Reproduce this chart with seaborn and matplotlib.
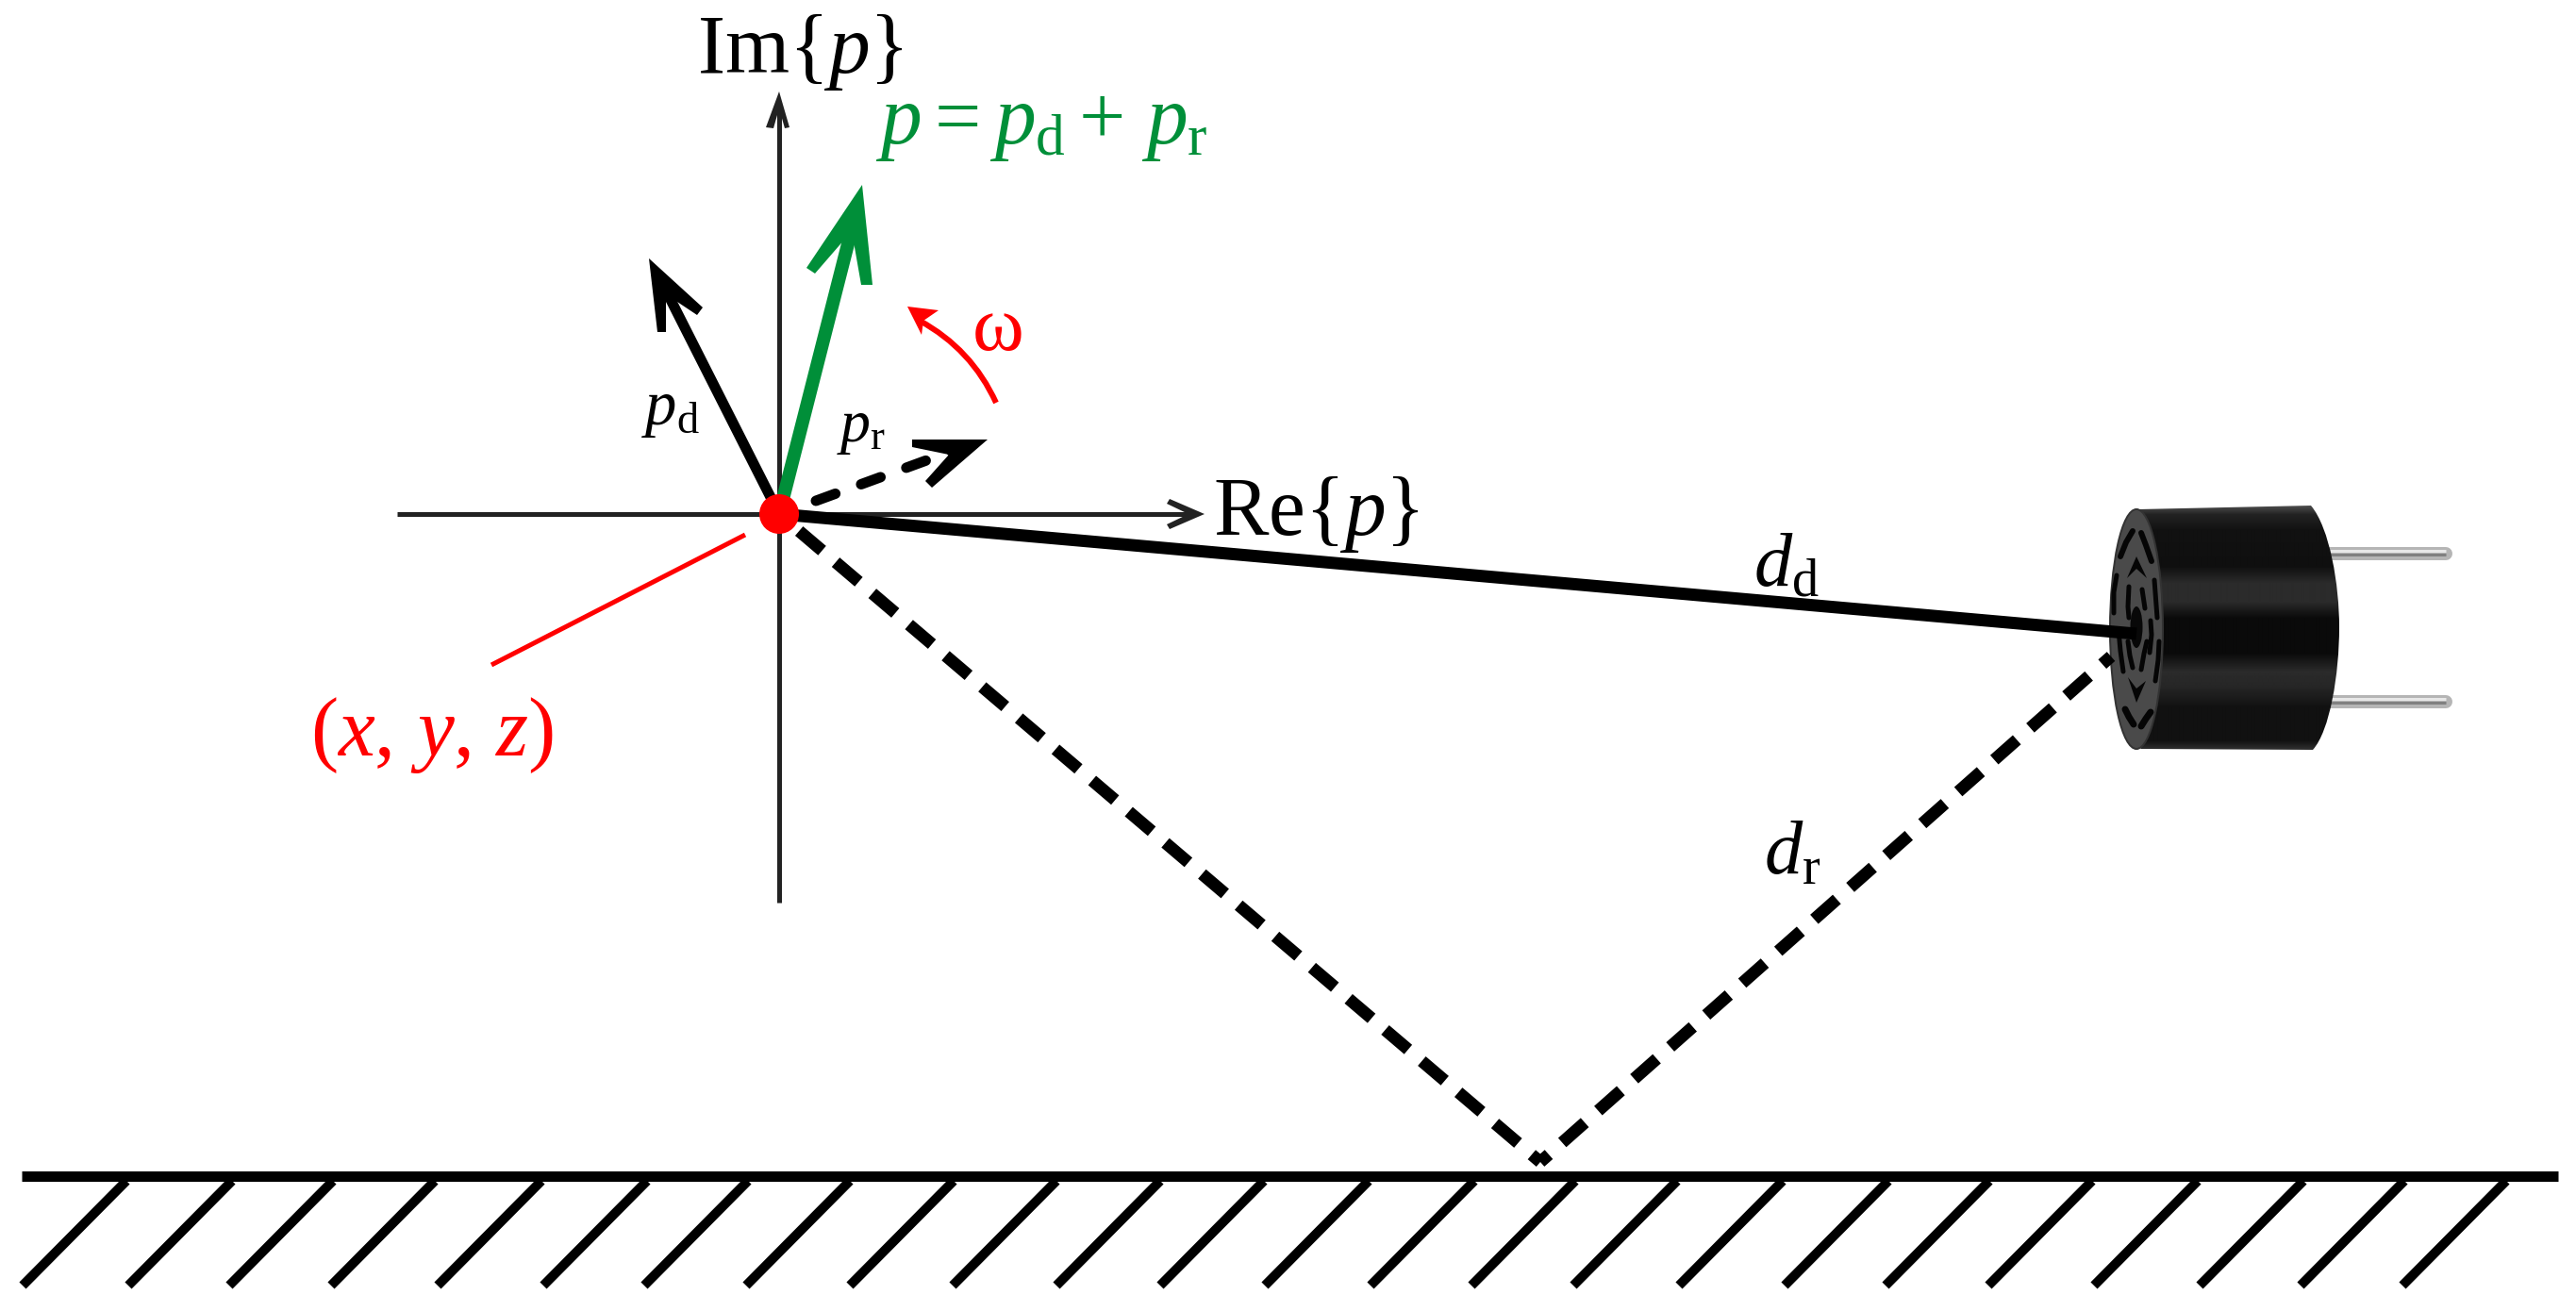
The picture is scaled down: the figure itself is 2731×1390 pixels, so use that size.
import numpy as np
import matplotlib
matplotlib.use("Agg")
import matplotlib.pyplot as plt
import seaborn as sns
from matplotlib.colors import LinearSegmentedColormap
from matplotlib.patches import Ellipse, PathPatch
from matplotlib.path import Path

WIDTH, HEIGHT = 2731, 1390
PX = 0.72  # one pixel in points at dpi 100

RED = "#ff0000"
GREEN = "#008f39"
AXIS = "#222222"

origin = (826, 545)
im_axis_x = [826, 826]
im_axis_y = [957, 110]
re_axis_x = [421, 1265]
re_axis_y = [545, 545]

im_head = [(826, 97), (837, 135), (832, 136), (826, 115), (820, 136), (812, 135)]
re_head = [(1277, 545), (1240, 529), (1237, 534), (1260, 545), (1237, 556), (1240, 561)]

green_tip_x = [826, 905]
green_tip_y = [545, 235]
green_head = [(914, 196), (925, 302), (913, 302), (903, 245), (864, 290), (855, 284)]

pd_x = [826, 702]
pd_y = [545, 300]
pd_head = [(688, 274), (745, 326), (739, 334), (706, 312), (706, 352), (697, 352)]

pr_x = [865, 1018]
pr_y = [531, 475]
pr_head = [(1047, 466), (988, 517), (981, 510), (1006, 482), (967, 474), (967, 466)]

omega_curve = [(1056, 427), (1030, 370), (975, 340)]
omega_head = [(962, 325), (995, 329), (979, 340), (977, 355)]

point_line_x = [790, 521]
point_line_y = [567, 705]

direct_x = [826, 2265]
direct_y = [545, 672]
reflect_left_x = [1633, 826]
reflect_left_y = [1232, 545]
reflect_right_x = [1633, 2238]
reflect_right_y = [1232, 696]

ground_x = [23, 2712]
ground_y = [1247, 1247]
hatch_top = [134, 246, 353, 461, 574, 686, 793, 901, 1011, 1120, 1230, 1340, 1451,
             1563, 1670, 1778, 1890, 2002, 2109, 2218, 2330, 2442, 2549, 2657]
hatch_run = 110
hatch_y = [1252, 1363]

# sensor
pin_rows = [587, 744]
pin_x = [2465, 2593]
body_stops = [(536, .30), (545, .14), (562, .07), (600, .06), (618, .17), (638, .17), (655, .04),
              (692, .04), (712, .17), (728, .15), (750, .07), (785, .07), (795, .20)]
face_x, face_y, face_a, face_b = 2265, 667, 28, 127
# slots in the front face: x points, y points, line width
face_slots = [
    ([2261, 2254, 2248], [563, 575, 590], 6),
    ([2270, 2275, 2281], [565, 578, 595], 6),
    ([2244, 2241, 2241], [610, 628, 650], 5),
    ([2257, 2256, 2257], [622, 643, 655], 5),
    ([2271, 2274], [625, 645], 5),
    ([2284, 2287], [615, 655], 5),
    ([2280, 2281, 2279], [658, 673, 692], 5),
    ([2246, 2248, 2251], [668, 690, 712], 5),
    ([2256, 2258, 2261], [680, 695, 708], 5),
    ([2276, 2273, 2270], [680, 693, 710], 5),
    ([2289, 2288, 2285], [680, 700, 722], 5),
    ([2253, 2257, 2262], [752, 760, 768], 7),
    ([2280, 2275, 2270], [755, 762, 770], 7),
]
face_crescents = [
    [(2265, 590), (2276, 613), (2265, 603), (2255, 613)],
    [(2265, 745), (2275, 722), (2265, 730), (2256, 718)],
]

labels = [
    (739, 77, r"Im$\{p\}$", "black", 63),
    (928, 152, r"$p\hspace{0.02}=\hspace{0.02}p_{\mathrm{d}}+\hspace{0.16}p_{\mathrm{r}}$", GREEN, 63),
    (680, 450, r"$p_{\mathrm{d}}$", "black", 48),
    (887, 468, r"$p_{\mathrm{r}}$", "black", 46),
    (1031, 371, "\u03c9", RED, 60),
    (1286, 567, r"Re$\{p\}$", "black", 63),
    (1859, 621, r"$d_{\mathrm{d}}$", "black", 58),
    (1870, 927, r"$d_{\mathrm{r}}$", "black", 58),
    (329, 801, r"$(x,\,y,\,z)$", RED, 63),
]

sns.set_theme(style="white")
plt.rcParams["font.family"] = ["Liberation Serif", "DejaVu Serif"]
plt.rcParams["mathtext.fontset"] = "custom"
plt.rcParams["mathtext.rm"] = "Liberation Serif"
plt.rcParams["mathtext.it"] = "Liberation Serif:italic"
plt.rcParams["mathtext.bf"] = "Liberation Serif:bold"
plt.rcParams["lines.scale_dashes"] = False

fig = plt.figure(figsize=(WIDTH / 100, HEIGHT / 100), dpi=100, facecolor="white")
ax = fig.add_axes([0, 0, 1, 1])


def line(xs, ys, color="black", width=5, zorder=3, **kws):
    sns.lineplot(x=xs, y=ys, color=color, linewidth=width * PX, estimator=None, sort=False,
                 errorbar=None, legend=False, ax=ax, zorder=zorder, **kws)


def head(points, color, zorder=4):
    xs, ys = zip(*points)
    ax.fill(xs, ys, color=color, linewidth=0, zorder=zorder)


# ground
line(ground_x, ground_y, width=11, solid_capstyle="butt")
for top in hatch_top:
    line([top, top - hatch_run], hatch_y, width=10, solid_capstyle="butt")

# sensor pins, behind the body
for row in pin_rows:
    line(pin_x, [row, row], color="#b5b5b5", width=14, zorder=1, solid_capstyle="round")
    line(pin_x, [row - 3, row - 3], color="#e8e8e8", width=3, zorder=1.1, solid_capstyle="butt")
    line(pin_x, [row + 1, row + 1], color="#808080", width=3, zorder=1.1, solid_capstyle="butt")

# sensor body, a grey band gradient clipped to the outline
body_verts = [(2267, 540), (2450, 536),
              (2470, 560), (2480, 620), (2480, 665),
              (2480, 715), (2470, 775), (2452, 795),
              (2270, 794),
              (2245, 770), (2237, 710), (2237, 665),
              (2237, 615), (2245, 555), (2267, 540)]
body_codes = [Path.MOVETO, Path.LINETO,
              Path.CURVE4, Path.CURVE4, Path.CURVE4,
              Path.CURVE4, Path.CURVE4, Path.CURVE4,
              Path.LINETO,
              Path.CURVE4, Path.CURVE4, Path.CURVE4,
              Path.CURVE4, Path.CURVE4, Path.CURVE4]
body_path = PathPatch(Path(body_verts, body_codes), facecolor="none", edgecolor="none", zorder=2)
ax.add_patch(body_path)
rows = np.arange(536, 796)
greys = np.interp(rows, [s[0] for s in body_stops], [s[1] for s in body_stops])
body_img = ax.imshow(greys[:, None], cmap=LinearSegmentedColormap.from_list("g", ["black", "white"]),
                     vmin=0, vmax=1, extent=(2237, 2481, 796, 536), aspect="auto", zorder=2,
                     interpolation="bilinear")
body_img.set_clip_path(body_path)

# sensor front face
ax.add_patch(Ellipse((face_x, face_y), 2 * face_a, 2 * face_b, facecolor="#4a4a4a", edgecolor="#333333",
                     linewidth=2 * PX, zorder=2.2))
for xs, ys, w in face_slots:
    line(xs, ys, color="#050505", width=w, zorder=2.3, solid_capstyle="round")
for points in face_crescents:
    head(points, "#050505", zorder=2.3)
ax.add_patch(Ellipse((face_x, 665), 13, 44, facecolor="#080808", edgecolor="none", zorder=2.3))

# phasor axes
line(im_axis_x, im_axis_y, color=AXIS, solid_capstyle="butt")
line(re_axis_x, re_axis_y, color=AXIS, solid_capstyle="butt")
head(im_head, AXIS)
head(re_head, AXIS)

# paths from the sensor
line(direct_x, direct_y, width=13, zorder=4, solid_capstyle="butt")
line(reflect_left_x, reflect_left_y, width=13, zorder=4,
     linestyle=(20 * PX, (32 * PX, 19 * PX)), dash_capstyle="butt")
line(reflect_right_x, reflect_right_y, width=13, zorder=4,
     linestyle=(20 * PX, (32 * PX, 19 * PX)), dash_capstyle="butt")

# phasors
line(pd_x, pd_y, width=11, zorder=5, solid_capstyle="butt")
head(pd_head, "black", zorder=5)
line(pr_x, pr_y, width=11, zorder=5, linestyle=(0, (22 * PX, 29 * PX)), dash_capstyle="round")
head(pr_head, "black", zorder=5)
line(green_tip_x, green_tip_y, color=GREEN, width=14, zorder=6, solid_capstyle="butt")
head(green_head, GREEN, zorder=6)

# rotation arrow, point label line, point
ax.add_patch(PathPatch(Path(omega_curve, [Path.MOVETO, Path.CURVE3, Path.CURVE3]), facecolor="none",
                       edgecolor=RED, linewidth=6 * PX, capstyle="butt", zorder=5))
head(omega_head, RED, zorder=5)
line(point_line_x, point_line_y, color=RED, width=5, zorder=5, solid_capstyle="butt")
ax.add_patch(Ellipse(origin, 42, 42, facecolor=RED, edgecolor="none", zorder=7))

for x, y, text, color, size in labels:
    ax.text(x, y, text, color=color, fontsize=size, ha="left", va="baseline", zorder=8)

ax.set_xlim(0, WIDTH)
ax.set_ylim(HEIGHT, 0)
ax.set_xlabel("")
ax.set_ylabel("")
ax.axis("off")
fig.savefig("out.png", dpi=100, facecolor="white")
